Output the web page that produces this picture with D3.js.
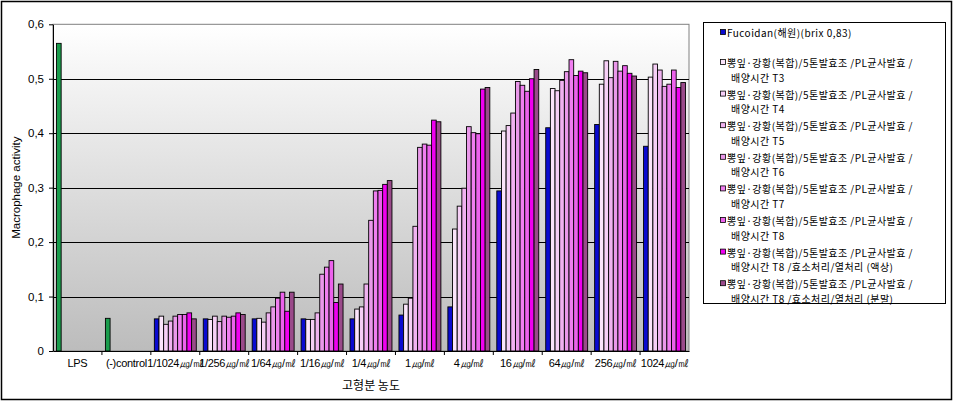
<!DOCTYPE html>
<html><head><meta charset="utf-8">
<script src="https://cdn.jsdelivr.net/npm/d3@7/dist/d3.min.js"></script>
<style>
html,body{margin:0;padding:0;background:#fff;}
svg{display:block;font-family:"Noto Sans CJK KR","Noto Sans",sans-serif;}
</style></head>
<body>
<svg id="chart" width="958" height="402"></svg>
<script>
const categories = ["LPS","(-)control","1/1024㎍/㎖","1/256㎍/㎖","1/64㎍/㎖","1/16㎍/㎖","1/4㎍/㎖","1㎍/㎖","4㎍/㎖","16㎍/㎖","64㎍/㎖","256㎍/㎖","1024㎍/㎖"];
const seriesNames = [
  ["Fucoidan(해원)(brix 0,83)"],
  ["뽕잎·강황(복합)/5톤발효조 /PL균사발효 /","배양시간 T3"],
  ["뽕잎·강황(복합)/5톤발효조 /PL균사발효 /","배양시간 T4"],
  ["뽕잎·강황(복합)/5톤발효조 /PL균사발효 /","배양시간 T5"],
  ["뽕잎·강황(복합)/5톤발효조 /PL균사발효 /","배양시간 T6"],
  ["뽕잎·강황(복합)/5톤발효조 /PL균사발효 /","배양시간 T7"],
  ["뽕잎·강황(복합)/5톤발효조 /PL균사발효 /","배양시간 T8"],
  ["뽕잎·강황(복합)/5톤발효조 /PL균사발효 /","배양시간 T8 /효소처리/열처리 (액상)"],
  ["뽕잎·강황(복합)/5톤발효조 /PL균사발효 /","배양시간 T8 /효소처리/열처리 (분말)"]
];
const fucoidan = [0.565,0.060,0.059,0.059,0.059,0.059,0.059,0.066,0.081,0.294,0.410,0.416,0.376];
const t3   = [null,null,0.064,0.058,0.060,0.058,0.077,0.086,0.224,0.404,0.482,0.490,0.503];
const t4   = [null,null,0.049,0.064,0.053,0.058,0.081,0.097,0.266,0.414,0.478,0.533,0.527];
const t5   = [null,null,0.055,0.054,0.070,0.070,0.123,0.229,0.299,0.437,0.497,0.502,0.516];
const t6   = [null,null,0.064,0.064,0.081,0.141,0.240,0.374,0.412,0.495,0.513,0.532,0.486];
const t7   = [null,null,0.067,0.062,0.097,0.154,0.294,0.380,0.401,0.488,0.535,0.514,0.490];
const t8   = [null,null,0.067,0.064,0.108,0.166,0.295,0.378,0.399,0.477,0.506,0.524,0.516];
const t8liquid = [null,null,0.070,0.070,0.073,0.089,0.306,0.424,0.481,0.500,0.514,0.510,0.484];
const t8powder = [null,null,0.059,0.067,0.108,0.123,0.313,0.421,0.484,0.517,0.511,0.505,0.493];
const seriesValues = [fucoidan,t3,t4,t5,t6,t7,t8,t8liquid,t8powder];
const seriesColors = ["#0a0ad0","#fbe4fb","#f6cff6","#f0b2f0","#ea98ea","#f07ef0","#ec62ec","#f000f0","#9a4a8a"];
const greenCategories = ["LPS","(-)control"];
const greenColor = "#1a9c4c";
const yTicks = [0,0.1,0.2,0.3,0.4,0.5,0.6];
const xTitle = "고형분 농도";
const yTitle = "Macrophage activity";

const svg = d3.select("#chart");
const L = 53, R = 689, T = 24.3, B = 351;

// outer frame
svg.append("rect").attr("x",1.5).attr("y",1.5).attr("width",950).attr("height",398)
  .attr("fill","#fff").attr("stroke","#000").attr("stroke-width",1.5);

// plot gradient
const defs = svg.append("defs");
const g = defs.append("linearGradient").attr("id","bg").attr("x1",0).attr("y1",0).attr("x2",0).attr("y2",1);
g.append("stop").attr("offset","0%").attr("stop-color","#ffffff");
g.append("stop").attr("offset","100%").attr("stop-color","#bcbcbc");

const x = d3.scaleBand().domain(categories).range([L,R]).paddingInner(0).paddingOuter(0);
const xs = d3.scaleBand().domain(d3.range(seriesValues.length)).range([0,x.bandwidth()]).paddingInner(0).paddingOuter(0.75);
const y = d3.scaleLinear().domain([0,0.6]).range([B,T]);

svg.append("rect").attr("x",L).attr("y",T).attr("width",R-L).attr("height",B-T)
  .attr("fill","url(#bg)").attr("stroke","#808080").attr("stroke-width",1);

// gridlines
svg.append("g").selectAll("line").data(yTicks.filter(d=>d>0 && d<0.6)).join("line")
  .attr("x1",L).attr("x2",R).attr("y1",d=>Math.round(y(d))+0.5).attr("y2",d=>Math.round(y(d))+0.5)
  .attr("stroke","#000").attr("stroke-width",1);

// bars
const barData = [];
seriesValues.forEach((vals,si)=>vals.forEach((v,ci)=>{ if(v!=null) barData.push({si,ci,v}); }));
svg.append("g").selectAll("rect").data(barData).join("rect")
  .attr("x",d=>x(categories[d.ci])+xs(d.si))
  .attr("y",d=>y(d.v))
  .attr("width",xs.bandwidth())
  .attr("height",d=>B-y(d.v))
  .attr("fill",d=> (d.si===0 && greenCategories.includes(categories[d.ci])) ? greenColor : seriesColors[d.si])
  .attr("stroke","#000").attr("stroke-width",0.9);

// y axis
const yAxis = d3.axisLeft(y).tickValues(yTicks).tickSize(4).tickSizeOuter(0)
  .tickFormat(d=>d===0?"0":d3.format(".1f")(d).replace(".",","));
const ya = svg.append("g").attr("transform",`translate(${L},0)`).call(yAxis);
ya.select(".domain").attr("stroke","#000");
ya.selectAll("text").attr("font-size",11.5).attr("fill","#000").attr("dx",-2)
  .attr("font-family","'Liberation Sans',Arial,sans-serif");

// x axis
const xAxis = d3.axisBottom(x).tickSize(0).tickSizeOuter(0);
const xa = svg.append("g").attr("transform",`translate(0,${B})`).call(xAxis);
xa.select(".domain").attr("stroke","#000");
xa.selectAll("text").attr("font-size",11).attr("fill","#000").attr("dy","1.2em")
  .attr("letter-spacing","-0.3px");
// category separator ticks
svg.append("g").selectAll("line").data(categories.slice(1)).join("line")
  .attr("x1",d=>x(d)).attr("x2",d=>x(d)).attr("y1",B).attr("y2",B+4).attr("stroke","#000");

// axis titles
svg.append("text").attr("x",(L+R)/2).attr("y",390).attr("text-anchor","middle")
  .attr("font-size",12).text(xTitle);
svg.append("text").attr("transform",`translate(20,${(T+B)/2}) rotate(-90)`).attr("text-anchor","middle")
  .attr("font-size",11.5).attr("font-family","'Liberation Sans',Arial,sans-serif").text(yTitle);

// legend
const lg = svg.append("g");
lg.append("rect").attr("x",703.5).attr("y",22.5).attr("width",242).attr("height",281)
  .attr("fill","#fff").attr("stroke","#000").attr("stroke-width",1);
seriesNames.forEach((lines,i)=>{
  const y0 = i===0 ? 33 : 63 + (i-1)*31.6;
  lg.append("rect").attr("x",720.5).attr("y",y0-3.5).attr("width",5).attr("height",5)
    .attr("fill",seriesColors[i]).attr("stroke","#000").attr("stroke-width",0.8);
  lines.forEach((t,j)=>{
    lg.append("text").attr("x", j===0?727:731).attr("y",y0+4+j*14.6)
      .attr("font-size",10).attr("letter-spacing","0.45px").text(t);
  });
});
</script>
</body></html>
